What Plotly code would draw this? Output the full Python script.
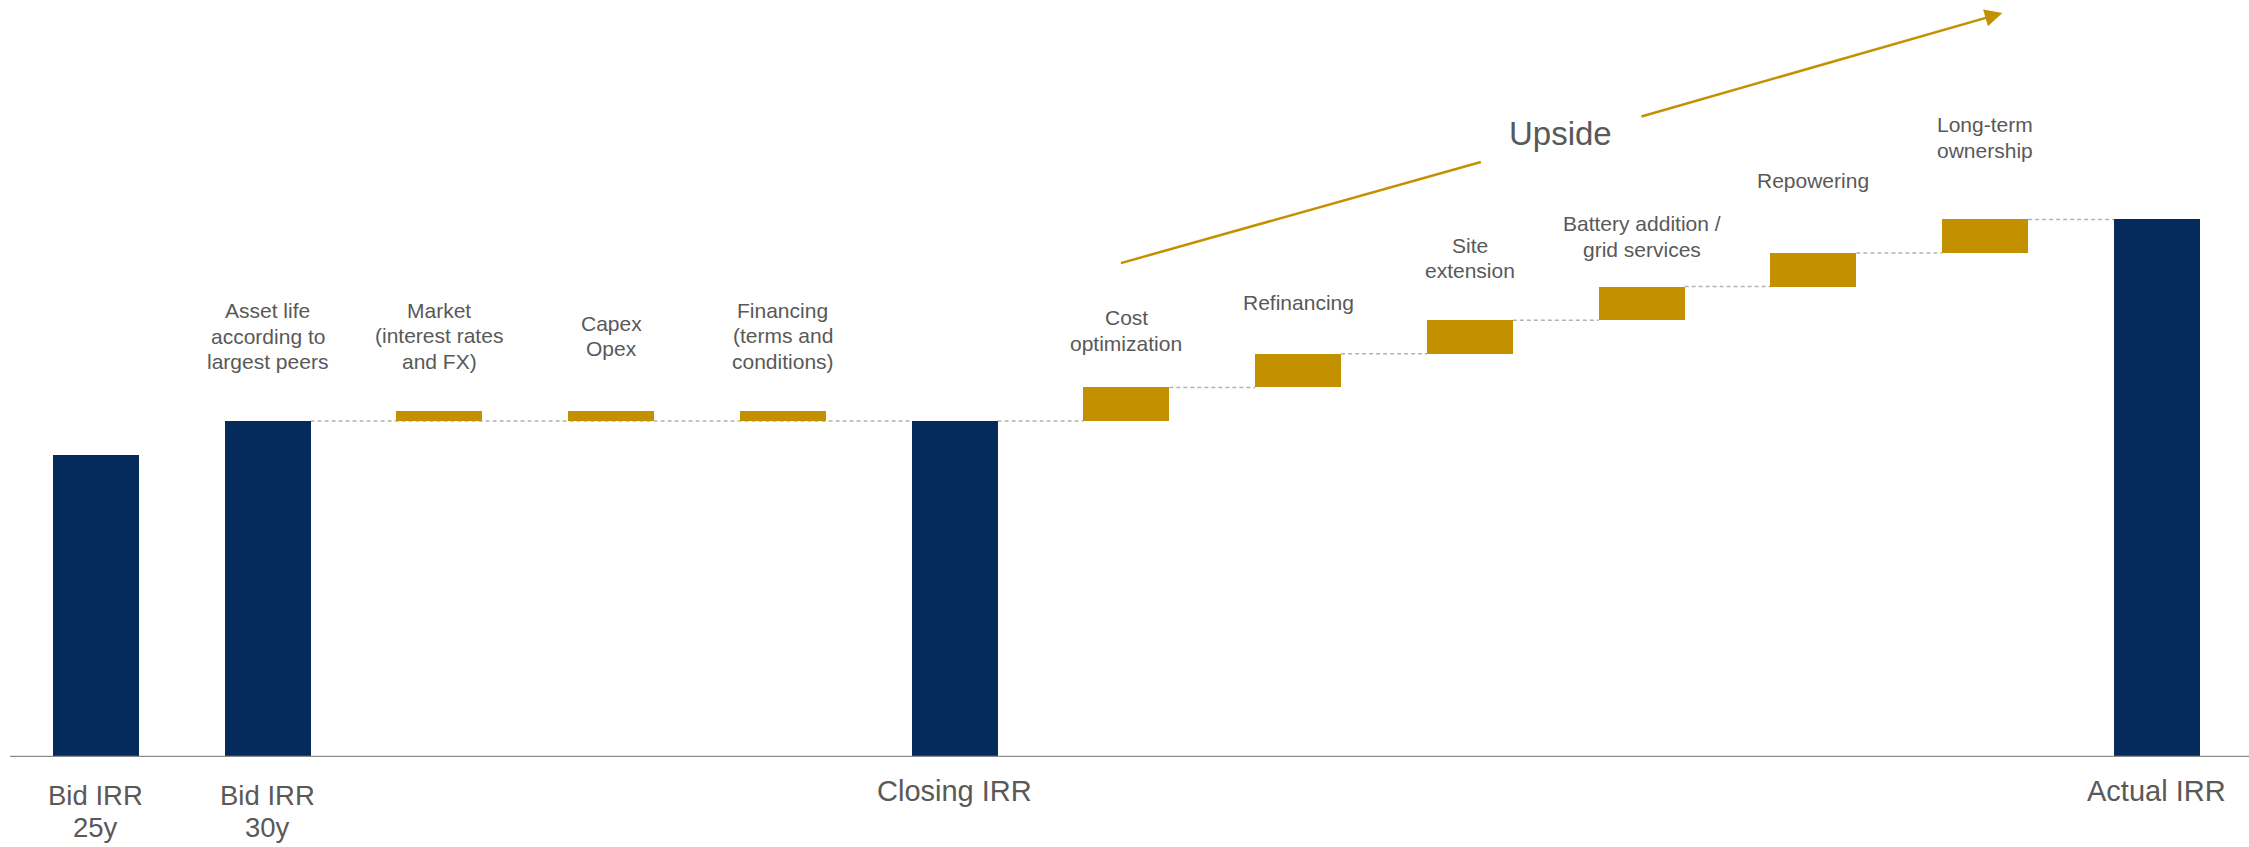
import plotly.graph_objects as go

# ---- data -------------------------------------------------------------
categories = ["Bid IRR 25y", "Bid IRR 30y", "Market", "Capex Opex", "Financing",
              "Closing IRR", "Cost optimization", "Refinancing", "Site extension",
              "Battery addition / grid services", "Repowering", "Long-term ownership",
              "Actual IRR"]

bid_irr_25y = 9.0
bid_irr_30y = 10.0
neutral_effects = [0.3, 0.3, 0.3]          # Market, Capex/Opex, Financing
closing_irr = 10.0
upside_steps = [1.0, 1.0, 1.0, 1.0, 1.0, 1.0]
actual_irr = 16.0

bottom_labels = ["Bid IRR<br>25y", "Bid IRR<br>30y", "Closing IRR", "Actual IRR"]
top_labels = ["Asset life<br>according to<br>largest peers",
              "Market<br>(interest rates<br>and FX)",
              "Capex<br>Opex",
              "Financing<br>(terms and<br>conditions)",
              "Cost<br>optimization",
              "Refinancing",
              "Site<br>extension",
              "Battery addition /<br>grid services",
              "Repowering",
              "Long-term<br>ownership"]

# ---- styling ------------------------------------------------------------
NAVY = "#052a5c"
GOLD = "#c39000"
TEXT = "#595959"
FONT = "Liberation Sans, Arial, sans-serif"
BAR_W = 0.5

total_idx = [0, 1, 5, 12]
total_vals = [bid_irr_25y, bid_irr_30y, closing_irr, actual_irr]
neutral_idx = [2, 3, 4]
upside_idx = [6, 7, 8, 9, 10, 11]

upside_base = []
level = closing_irr
for s in upside_steps:
    upside_base.append(level)
    level += s

fig = go.Figure()
fig.add_trace(go.Bar(x=total_idx, y=total_vals, base=0, width=BAR_W,
                     marker=dict(color=NAVY, line=dict(width=0)),
                     hoverinfo="skip", showlegend=False))
fig.add_trace(go.Bar(x=neutral_idx, y=neutral_effects, base=[bid_irr_30y] * 3,
                     width=BAR_W, marker=dict(color=GOLD, line=dict(width=0)),
                     hoverinfo="skip", showlegend=False))
fig.add_trace(go.Bar(x=upside_idx, y=upside_steps, base=upside_base, width=BAR_W,
                     marker=dict(color=GOLD, line=dict(width=0)),
                     hoverinfo="skip", showlegend=False))

# dashed connectors between consecutive levels
connectors = [(1, 5, bid_irr_30y), (5, 6, closing_irr)]
for k in range(len(upside_idx) - 1):
    connectors.append((upside_idx[k], upside_idx[k + 1], upside_base[k] + upside_steps[k]))
connectors.append((upside_idx[-1], 12, actual_irr))
shapes = []
for a, b, yv in connectors:
    shapes.append(dict(type="line", xref="x", yref="y", layer="below",
                       x0=a + BAR_W / 2, x1=b - BAR_W / 2, y0=yv, y1=yv,
                       line=dict(color="#b3b3b3", width=1.5, dash="4px,3px")))

# baseline
shapes.append(dict(type="line", xref="paper", yref="y", x0=0, x1=1, y0=0, y1=0,
                   line=dict(color="#8c8c8c", width=2.5)))

# upside trend arrow (first segment, before the label)
shapes.append(dict(type="line", xref="x", yref="y", x0=5.968, y0=14.70,
                   x1=8.064, y1=17.71, line=dict(color=GOLD, width=2.5)))
fig.update_layout(shapes=shapes)

annotations = []


def add_lines(x, y, text, center_shift, line_h, size):
    """Place a multi-line label line by line, centred on center_shift (px)."""
    lines = text.split("<br>")
    n = len(lines)
    for k, ln in enumerate(lines):
        dy = center_shift - (k - (n - 1) / 2) * line_h
        annotations.append(dict(x=x, y=y, xref="x", yref="y", text=ln,
                                showarrow=False, yanchor="middle", yshift=dy,
                                font=dict(family=FONT, size=size, color=TEXT)))


# category labels under the axis
for i, txt in zip(total_idx, bottom_labels):
    if "<br>" in txt:
        add_lines(i, 0, txt, -54.5, 32, 27.5)
    else:
        add_lines(i, 0, txt, -34, 32, 29)

# driver labels above the bars
label_idx = [1] + neutral_idx + upside_idx
label_tops = [bid_irr_30y] + [bid_irr_30y + v for v in neutral_effects] + \
             [b + s for b, s in zip(upside_base, upside_steps)]
label_shift = [85, 75, 75, 75, 57, 51, 62, 50, 73, 82]
for i, top, txt, dy in zip(label_idx, label_tops, top_labels, label_shift):
    add_lines(i, top, txt, dy, 25.5, 21)

# "Upside" label and arrow head segment
annotations.append(dict(x=8.53, y=18.57, xref="x", yref="y", text="Upside",
                        showarrow=False, font=dict(family=FONT, size=33, color=TEXT)))
annotations.append(dict(x=11.10, y=22.14, xref="x", yref="y", ax=8.99, ay=19.05,
                        axref="x", ayref="y", text="", showarrow=True,
                        arrowhead=2, arrowsize=1.4, arrowwidth=2.5, arrowcolor=GOLD))

fig.update_layout(
    annotations=annotations,
    width=2249, height=847,
    margin=dict(l=10, r=0, t=0, b=90),
    paper_bgcolor="white", plot_bgcolor="white",
    bargap=0, barmode="overlay",
    xaxis=dict(range=[-0.5, 12.536], visible=False, fixedrange=True),
    yaxis=dict(range=[0, 22.53], visible=False, fixedrange=True),
    font=dict(family=FONT, color=TEXT),
)

fig.write_html("out.html")
